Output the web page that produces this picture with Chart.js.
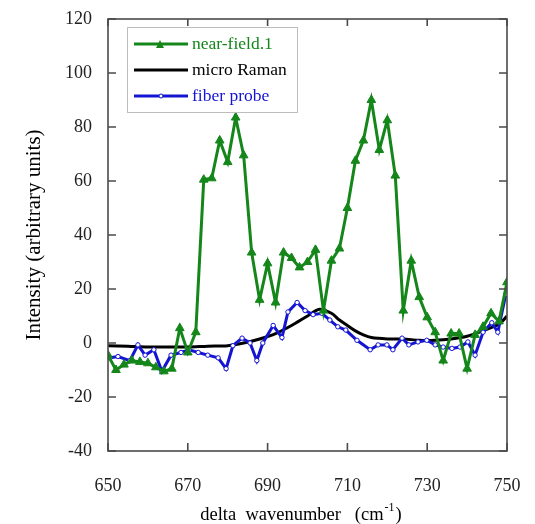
<!DOCTYPE html>
<html>
<head>
<meta charset="utf-8">
<script src="https://cdn.jsdelivr.net/npm/chart.js@4.4.0/dist/chart.umd.min.js"></script>
<style>
body{margin:0;background:#fff;}
</style>
</head>
<body>
<canvas id="spectre" width="535" height="524"></canvas>
<script>
// near-field.1 (triangles)
const nearX = [650,652,654,656,658,660,662,664,666,668,670,672,674,676,678,680,682,684,686,688,690,692,694,696,698,700,702,704,706,708,710,712,714,716,718,720,722,724,726,728,730,732,734,736,738,740,742,744,746,748,750];
const nearY = [-4.5,-10,-8,-6.5,-7,-7.5,-9,-10.5,-9.5,5.5,-3.5,4,60.5,61,75,67,83.5,69.5,33.5,16,29.5,15,33.5,31.5,28,30,34.5,12,30.5,35,50,67.5,75,90,71.5,82.5,62,12,30.5,17,9.5,4,-6.5,3.5,3.5,-9.5,3,6,11,8,22.5];
// micro Raman (smooth line)
const ramanX = [650,655,660,665,670,675,680,684,688,692,696,700,703,706,708,710,712,714,716,720,724,728,732,736,740,744,748,750];
const ramanY = [-1,-1.2,-1.5,-1.5,-1.5,-1.2,-1,0,1.5,3.5,6.5,10,12.5,11,8.5,6.5,4.5,3,2,1.5,1.5,1,1,1.5,2.5,4.5,7,10];
// fiber probe (small circles)
const fiberX = [650.5,652.5,655.5,657.5,659.3,661.5,663.5,665.8,668.3,670.3,672.6,675,677.6,679.6,681.3,683.6,685.6,687.3,688.8,691.4,693.6,695.1,697.4,699.4,701.4,703.6,705.6,707.6,709.6,712.4,715.7,717.7,719.9,721.4,723.7,725.4,727.7,729.9,732,734,736.2,738.2,740.2,742,744,746.2,747.7,749.7];
const fiberY = [-5.5,-5,-6.5,-0.7,-4.5,-2.5,-10.5,-4.5,-3.5,-2.5,-3.5,-4.5,-5.5,-9.5,-1,1.8,0,-6.5,0,6.5,2,11.5,15,12,10.5,11,8.5,6,4.8,1,-2.5,-0.7,-0.7,-2.5,1.8,-0.7,0.4,1,-0.7,-1.5,-2,-1.5,0.4,-4.5,4,7.5,4,18];

const xTicks = [650,670,690,710,730,750];
const yTicks = [-40,-20,0,20,40,60,80,100,120];

function pts(xs, ys){
	return xs.map((x,i)=>({x:x, y:ys[i]}));
}

const green = "#14861a";
const blue = "#1414d2";

// ticks pointing inward + box + legend + x title
const cadrePlugin = {
	id: 'cadre',
	afterDraw(chart){
		const ctx = chart.ctx;
		const a = chart.chartArea;
		const sx = chart.scales.x, sy = chart.scales.y;
		ctx.save();
		ctx.strokeStyle = "#4a4a4a";
		ctx.lineWidth = 1.6;
		ctx.strokeRect(a.left, a.top, a.right-a.left, a.bottom-a.top);
		ctx.beginPath();
		for(const v of xTicks){
			const px = sx.getPixelForValue(v);
			ctx.moveTo(px, a.bottom); ctx.lineTo(px, a.bottom-8);
			ctx.moveTo(px, a.top); ctx.lineTo(px, a.top+7);
		}
		for(const v of yTicks){
			const py = sy.getPixelForValue(v);
			ctx.moveTo(a.left, py); ctx.lineTo(a.left+8, py);
			ctx.moveTo(a.right, py); ctx.lineTo(a.right-8, py);
		}
		ctx.stroke();

		// legend
		ctx.fillStyle = "#fff";
		ctx.fillRect(127, 27, 170, 85);
		ctx.strokeStyle = "#bdbdbd";
		ctx.lineWidth = 1;
		ctx.strokeRect(127.5, 27.5, 170, 85);
		const items = [
			{label:"near-field.1", color:green, mark:"tri"},
			{label:"micro Raman", color:"#000000", mark:""},
			{label:"fiber probe", color:blue, mark:"circ"}
		];
		ctx.font = "17.5px 'Liberation Serif'";
		ctx.textBaseline = "middle";
		items.forEach((it,i)=>{
			const y = 44 + i*26;
			ctx.strokeStyle = it.color;
			ctx.lineWidth = 3;
			ctx.beginPath(); ctx.moveTo(134,y); ctx.lineTo(188,y); ctx.stroke();
			if(it.mark=="tri"){
				ctx.fillStyle = it.color;
				ctx.beginPath(); ctx.moveTo(160,y-4); ctx.lineTo(164,y+4); ctx.lineTo(156,y+4); ctx.closePath(); ctx.fill();
			}
			if(it.mark=="circ"){
				ctx.fillStyle = "#fff"; ctx.lineWidth = 1;
				ctx.beginPath(); ctx.arc(161,y,2,0,Math.PI*2); ctx.fill(); ctx.stroke();
			}
			ctx.fillStyle = it.color;
			ctx.fillText(it.label, 192, y);
		});

		// x title with superscript
		ctx.fillStyle = "#000";
		ctx.textBaseline = "alphabetic";
		const t1 = "delta  wavenumber   (cm", t2 = "-1", t3 = ")";
		ctx.font = "18.5px 'Liberation Serif'";
		const w1 = ctx.measureText(t1).width;
		ctx.font = "12px 'Liberation Serif'";
		const w2 = ctx.measureText(t2).width;
		ctx.font = "18.5px 'Liberation Serif'";
		const w3 = ctx.measureText(t3).width;
		let x0 = 300 - (w1+w2+w3)/2;
		const yb = 520;
		ctx.fillText(t1, x0, yb);
		ctx.font = "12px 'Liberation Serif'";
		ctx.fillText(t2, x0+w1+1, yb-9);
		ctx.font = "18.5px 'Liberation Serif'";
		ctx.fillText(t3, x0+w1+w2+2, yb);
		ctx.restore();
	}
};

new Chart(document.getElementById("spectre"), {
	type: 'line',
	data: {
		datasets: [{
			label: 'near-field.1',
			data: pts(nearX, nearY),
			borderColor: green,
			backgroundColor: green,
			borderWidth: 3,
			pointStyle: 'triangle',
			pointRadius: 5,
			pointBorderWidth: 1,
			tension: 0
		},{
			label: 'fiber probe',
			data: pts(fiberX, fiberY),
			borderColor: blue,
			backgroundColor: "#ffffff",
			borderWidth: 3,
			pointStyle: 'circle',
			pointRadius: 2.2,
			pointBorderWidth: 1,
			tension: 0
		},{
			label: 'micro Raman',
			data: pts(ramanX, ramanY),
			borderColor: "#000000",
			borderWidth: 3,
			pointRadius: 0,
			tension: 0.3
		}]
	},
	options: {
		responsive: false,
		animation: false,
		layout: { padding: { left: 0, right: 28, top: 19, bottom: 0 } },
		plugins: { legend: { display: false }, tooltip: { enabled: false } },
		scales: {
			x: {
				type: 'linear', min: 650, max: 750,
				afterBuildTicks: s => { s.ticks = xTicks.map(v => ({value: v})); },
				afterFit: s => { s.height = 73; s.paddingLeft = 0; s.paddingRight = 0; },
				grid: { display: false, drawTicks: false },
				border: { display: false },
				ticks: { padding: 24, color: "#222", font: { family: "'Liberation Serif'", size: 18 } }
			},
			y: {
				min: -40, max: 120,
				afterBuildTicks: s => { s.ticks = yTicks.map(v => ({value: v})); },
				afterFit: s => { s.width = 108; s.paddingTop = 0; s.paddingBottom = 0; },
				grid: { display: false, drawTicks: false },
				border: { display: false },
				ticks: { padding: 16, color: "#222", font: { family: "'Liberation Serif'", size: 18 } },
				title: { display: true, text: 'Intensity (arbitrary units)', color: "#000", padding: { top: 22 }, font: { family: "'Liberation Serif'", size: 21 } }
			}
		}
	},
	plugins: [cadrePlugin]
});
</script>
</body>
</html>
